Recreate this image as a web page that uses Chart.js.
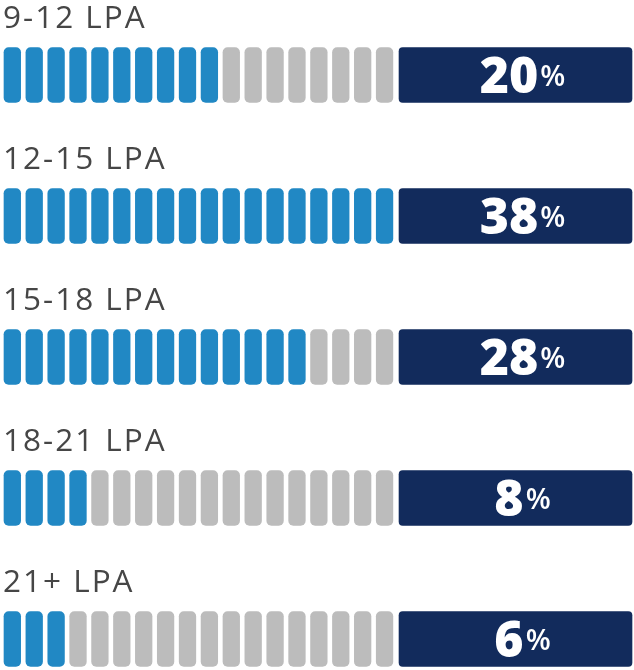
<!DOCTYPE html>
<html><head><meta charset="utf-8">
<script src="https://cdn.jsdelivr.net/npm/chart.js@4/dist/chart.umd.min.js"></script>
<style>html,body{margin:0;padding:0;background:#fff;overflow:hidden}#wrap{width:634px;height:670px;position:relative}</style>
</head><body><div id="wrap"><canvas id="c"></canvas></div>
<script>
const categories = ['9-12 LPA', '12-15 LPA', '15-18 LPA', '18-21 LPA', '21+ LPA'];
const percentages = [20, 38, 28, 8, 6];
const filledSegments = [10, 18, 14, 4, 3];
const totalSegments = 18;

const BLUE = '#2188c4', GRAY = '#bcbcbc', NAVY = '#122b5c';
const SEG_W = 0.76, BOX_START = 18.04, BOX_END = 28.68;

const datasets = [];
for (let i = 0; i < totalSegments; i++) {
  datasets.push({
    data: categories.map(() => [i, i + SEG_W]),
    backgroundColor: categories.map((_, r) => i < filledSegments[r] ? BLUE : GRAY),
    grouped: false, barThickness: 55, borderRadius: 5, borderSkipped: false, clip: false
  });
}
datasets.push({
  data: categories.map(() => [BOX_START, BOX_END]),
  backgroundColor: NAVY, grouped: false, barThickness: 55, borderRadius: 4, borderSkipped: false, clip: false
});

const textPlugin = {
  id: 'texts',
  afterDatasetsDraw(chart) {
    const ctx = chart.ctx;
    const segMeta = chart.getDatasetMeta(0);
    const boxMeta = chart.getDatasetMeta(totalSegments);
    ctx.save();
    categories.forEach((label, r) => {
      const seg = segMeta.data[r];
      const top = seg.y - seg.height / 2;
      ctx.font = '400 31.5px "Open Sans"';
      ctx.letterSpacing = '2px';
      ctx.fillStyle = '#464646';
      ctx.textAlign = 'left';
      ctx.textBaseline = 'alphabetic';
      ctx.fillText(label, 3, top - 20);

      const box = boxMeta.data[r];
      const cx = (box.x + box.base) / 2 + 7;
      const num = String(percentages[r]);
      ctx.letterSpacing = '0px';
      ctx.font = '800 50px "Open Sans"';
      const wn = ctx.measureText(num).width;
      ctx.font = '600 29px "Open Sans"';
      const wp = ctx.measureText('%').width;
      const gap = 2;
      const x0 = cx - (wn + gap + wp) / 2;
      ctx.fillStyle = '#ffffff';
      ctx.font = '800 50px "Open Sans"';
      ctx.fillText(num, x0, box.y + 18);
      ctx.font = '600 29px "Open Sans"';
      ctx.fillText('%', x0 + wn + gap, box.y + 11);
    });
    ctx.restore();
  }
};

new Chart(document.getElementById('c'), {
  type: 'bar',
  data: { labels: categories, datasets },
  options: {
    indexAxis: 'y',
    responsive: true, maintainAspectRatio: false, animation: false,
    layout: { padding: { left: 4, right: 2, top: 75, bottom: 31 } },
    scales: {
      x: { type: 'linear', min: 0, max: BOX_END, display: false },
      y: { type: 'category', offset: false, display: false }
    },
    plugins: { legend: { display: false }, tooltip: { enabled: false } }
  },
  plugins: [textPlugin]
});
</script></body></html>
